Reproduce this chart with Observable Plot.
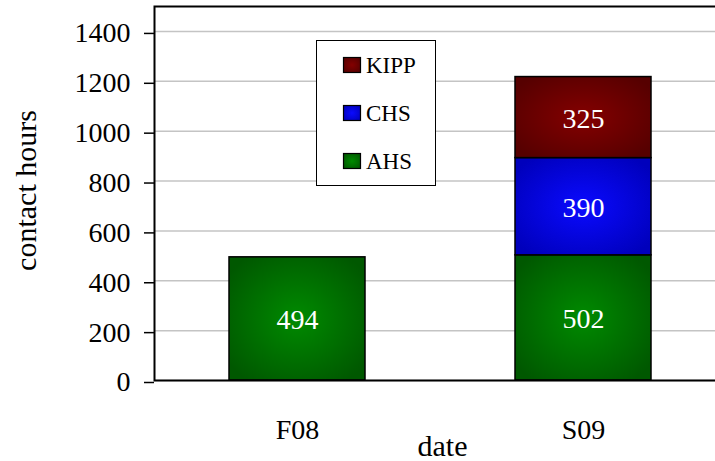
<!DOCTYPE html>
<html>
<head>
<meta charset="utf-8">
<script src="https://cdn.jsdelivr.net/npm/d3@7"></script>
<script src="https://cdn.jsdelivr.net/npm/@observablehq/plot@0.6"></script>
<style>
  html, body { margin: 0; padding: 0; overflow: hidden; background: white; }
</style>
</head>
<body>
<div id="chart"></div>
<script>
// ---- data ----
const dates = ["F08", "S09"];
const schools = ["AHS", "CHS", "KIPP"];
const AHS = [494, 502];
const CHS = [null, 390];
const KIPP = [null, 325];
const yTicks = [0, 200, 400, 600, 800, 1000, 1200, 1400];
const legendOrder = ["KIPP", "CHS", "AHS"];

// colours (center, edge)
const colors = {
  AHS: ["#008a00", "#005800"],
  CHS: ["#0a0aff", "#0000bc"],
  KIPP: ["#840000", "#560000"]
};

const seriesValues = {AHS, CHS, KIPP};
const rows = [];
dates.forEach((d, i) => {
  schools.forEach(s => {
    const v = seriesValues[s][i];
    if (v != null) rows.push({date: d, school: s, hours: v});
  });
});

const font = "'Liberation Serif', 'Times New Roman', serif";

const chart = Plot.plot({
  width: 715,
  height: 461,
  marginLeft: 154,
  marginRight: -11,
  marginTop: 6,
  marginBottom: 81,
  style: {fontFamily: font, background: "white", color: "black"},
  x: {domain: dates, paddingInner: 0.524, paddingOuter: 0.262, label: null},
  y: {domain: [0, 1500], label: null},
  color: {type: "identity"},
  marks: [
    Plot.gridY(yTicks, {stroke: "#c4c4c4", strokeOpacity: 1, strokeWidth: 1.5}),
    Plot.barY(rows, Plot.stackY({
      x: "date", y: "hours",
      fill: d => `url(#grad-${d.school})`,
      stroke: "black", strokeWidth: 1.5
    })),
    Plot.text(rows, Plot.stackY({
      x: "date", y: "hours", text: d => String(d.hours),
      fill: "white", fontSize: 28, dy: 1
    })),
    Plot.frame({stroke: "black", strokeWidth: 2}),
    Plot.axisY(yTicks, {tickSize: 10, tickPadding: 14, fontSize: 28, stroke: "black", strokeWidth: 1.5, dy: 2, tickFormat: d => String(d), label: null}),
    Plot.axisX({tickSize: 0, tickPadding: 39, fontSize: 28, label: null}),
    Plot.text(["contact hours"], {frameAnchor: "left", textAnchor: "middle", dx: -128, dy: -3, rotate: -90, fontSize: 30, lineAnchor: "middle"}),
    Plot.text(["date"], {frameAnchor: "bottom", textAnchor: "middle", dx: 2, dy: 66, fontSize: 30, lineAnchor: "middle"})
  ]
});

// gradients
const svg = d3.select(chart);
const defs = svg.insert("defs", ":first-child");
schools.forEach(s => {
  const g = defs.append("radialGradient")
    .attr("id", `grad-${s}`)
    .attr("cx", "50%").attr("cy", "50%").attr("r", "62%");
  g.append("stop").attr("offset", "0%").attr("stop-color", colors[s][0]);
  g.append("stop").attr("offset", "100%").attr("stop-color", colors[s][1]);
});

// legend
const lg = svg.append("g")
  .attr("font-family", font)
  .attr("text-anchor", "start")
  .attr("font-size", 23);
lg.append("rect")
  .attr("x", 316.5).attr("y", 40.5).attr("width", 119).attr("height", 145)
  .attr("fill", "white").attr("stroke", "black").attr("stroke-width", 1);
legendOrder.forEach((s, i) => {
  const base = 73 + i * 48;
  lg.append("rect")
    .attr("x", 343.5).attr("y", base - 15.5).attr("width", 17).attr("height", 15)
    .attr("fill", `url(#grad-${s})`).attr("stroke", "black").attr("stroke-width", 1.2);
  lg.append("text")
    .attr("x", 366).attr("y", base)
    .attr("text-anchor", "start")
    .style("font-size", "23px")
    .attr("fill", "black")
    .text(s);
});

document.getElementById("chart").appendChild(chart);
</script>
</body>
</html>
